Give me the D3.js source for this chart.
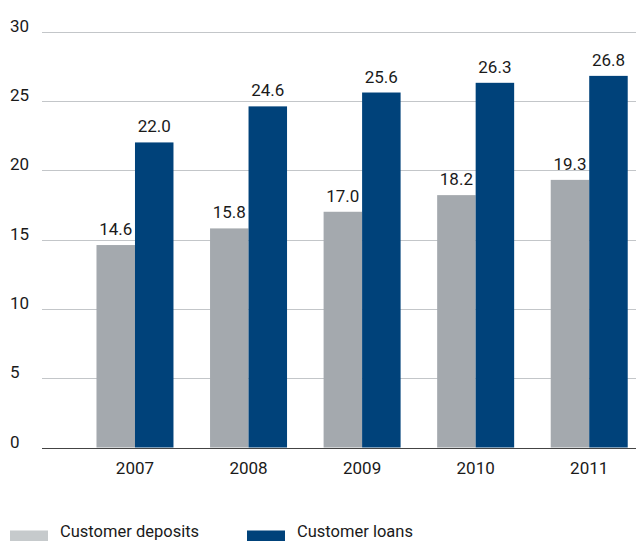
<!DOCTYPE html>
<html><head><meta charset="utf-8">
<script src="https://cdn.jsdelivr.net/npm/d3@7"></script>
<style>body{margin:0;background:#fff;} svg{display:block;}</style>
</head><body>
<script>
const categories = ["2007","2008","2009","2010","2011"];
const seriesNames = ["Customer deposits","Customer loans"];
const deposits = [14.6, 15.8, 17.0, 18.2, 19.3];
const loans = [22.0, 24.6, 25.6, 26.3, 26.8];
const yTicks = [0,5,10,15,20,25,30];

const W = 636, H = 541;
const font = "'Roboto', sans-serif";
const colors = ["#a4a9ae", "#00427a"];
const legendColors = ["#c6cacc", "#00427a"];

const svg = d3.select("body").append("svg").attr("width", W).attr("height", H)
  .style("font-family", font).style("font-weight", 400);

const y = d3.scaleLinear().domain([0,30]).range([447.5, 31.5]);
const x = d3.scaleBand().domain(categories).range([78.2, 646]).paddingInner(0.322).paddingOuter(0.161);
const x1 = d3.scaleBand().domain(seriesNames).range([0, x.bandwidth()]);

// gridlines
const grid = svg.append("g");
grid.selectAll("line").data(yTicks.filter(d=>d>0)).join("line")
  .attr("x1", 42).attr("x2", W)
  .attr("y1", d=>Math.round(y(d))+0.5).attr("y2", d=>Math.round(y(d))+0.5)
  .attr("stroke", "#c3c6c9").attr("stroke-width", 1);

// y labels
svg.append("g").selectAll("text").data(yTicks).join("text")
  .attr("x", 10).attr("y", d=>Math.round(y(d)))
  .attr("font-size", 17).attr("fill", "#1a1a1a")
  .text(d=>d);

const data = categories.map((c,i)=>({cat:c, vals:[deposits[i], loans[i]]}));
const groups = svg.append("g").selectAll("g").data(data).join("g")
  .attr("transform", d=>`translate(${x(d.cat)},0)`);
groups.selectAll("rect").data(d=>d.vals.map((v,j)=>({v, s:seriesNames[j], j}))).join("rect")
  .attr("x", d=>x1(d.s)).attr("width", x1.bandwidth())
  .attr("y", d=>y(d.v)).attr("height", d=>y(0)-y(d.v))
  .attr("fill", d=>colors[d.j]);
groups.selectAll("text").data(d=>d.vals.map((v,j)=>({v, s:seriesNames[j], j}))).join("text")
  .attr("x", d=>x1(d.s)+x1.bandwidth()/2).attr("y", d=>y(d.v)-10)
  .attr("text-anchor","middle").attr("font-size", 17).attr("fill","#1a1a1a")
  .text(d=>d.v.toFixed(1));

// baseline
svg.append("line").attr("x1", 42).attr("x2", W)
  .attr("y1", Math.round(y(0))+0.5).attr("y2", Math.round(y(0))+0.5)
  .attr("stroke", "#444").attr("stroke-width", 1);

// x labels
svg.append("g").selectAll("text").data(categories).join("text")
  .attr("x", d=>x(d)+x.bandwidth()/2).attr("y", 474)
  .attr("text-anchor","middle").attr("font-size", 17).attr("fill","#1a1a1a")
  .text(d=>d);

// legend
const legX = [10, 247];
const leg = svg.append("g").selectAll("g").data(seriesNames).join("g")
  .attr("transform", (d,i)=>`translate(${legX[i]},0)`);
leg.append("rect").attr("x",0).attr("y",530.5).attr("width",38).attr("height",11)
  .attr("fill",(d,i)=>legendColors[i]);
leg.append("text").attr("x",50).attr("y",537).attr("font-size",16.5).attr("fill","#1a1a1a").text(d=>d);
</script>
</body></html>
